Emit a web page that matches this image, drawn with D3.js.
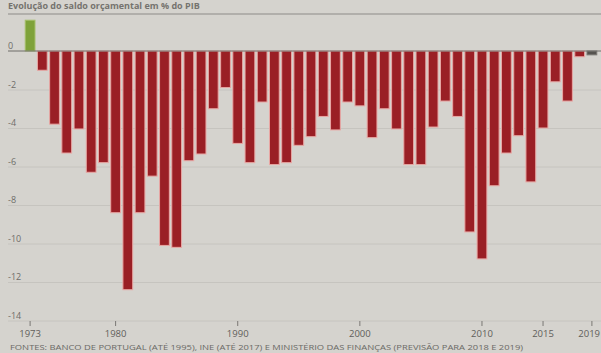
<!DOCTYPE html>
<html>
<head>
<meta charset="utf-8">
<script src="https://cdn.jsdelivr.net/npm/d3@7"></script>
<style>
  body { margin: 0; background: #d5d3ce; }
  svg { display: block; font-family: "Open Sans", "Liberation Sans", sans-serif; }
</style>
</head>
<body>
<div id="main"></div>
<script>
var years = d3.range(1973, 2020);
var saldo = [1.6, -1.0, -3.8, -5.3, -4.05, -6.3, -5.8, -8.4, -12.4, -8.4,
             -6.5, -10.1, -10.2, -5.7, -5.35, -3.0, -1.9, -4.8, -5.8, -2.65,
             -5.9, -5.8, -4.9, -4.45, -3.4, -4.1, -2.65, -2.85, -4.5, -3.0,
             -4.05, -5.9, -5.9, -3.95, -2.6, -3.4, -9.4, -10.8, -7.0, -5.3,
             -4.4, -6.8, -4.0, -1.6, -2.6, -0.3, -0.2];
var yTicks = [0, -2, -4, -6, -8, -10, -12, -14];
var xTickYears = [1973, 1980, 1990, 2000, 2010, 2015, 2019];
var title = "Evolução do saldo orçamental em % do PIB";
var source = "FONTES: BANCO DE PORTUGAL (ATÉ 1995), INE (ATÉ 2017) E MINISTÉRIO DAS FINANÇAS (PREVISÃO PARA 2018 E 2019)";

var width = 601, height = 353;

var svg = d3.select("#main").append("svg")
    .attr("width", width)
    .attr("height", height);

var x = d3.scaleBand()
    .domain(years)
    .range([24, 598])
    .paddingInner(0.2)
    .paddingOuter(0.1);

var y = d3.scaleLinear()
    .domain([-14, 0])
    .range([320.5, 51]);

// title and rule
svg.append("text")
    .attr("x", 8).attr("y", 9)
    .attr("font-size", 9)
    .attr("font-weight", "bold")
    .attr("fill", "#75736f")
    .text(title);

svg.append("line")
    .attr("x1", 8).attr("x2", width)
    .attr("y1", 14).attr("y2", 14)
    .attr("stroke", "#8d8b87").attr("stroke-width", 1.2);

// gridlines + y labels
var grid = svg.append("g");
grid.selectAll("line").data(yTicks.filter(function(d){ return d != 0; }))
  .enter().append("line")
    .attr("x1", 8).attr("x2", width)
    .attr("y1", function(d){ return y(d) + 0.5; })
    .attr("y2", function(d){ return y(d) + 0.5; })
    .attr("stroke", "#c6c4bf").attr("stroke-width", 1);

grid.selectAll("text").data(yTicks)
  .enter().append("text")
    .attr("x", 8)
    .attr("y", function(d){ return y(d) - 2; })
    .attr("font-size", 9)
    .attr("fill", "#6e6d69")
    .text(function(d){ return d; });

// bars
svg.append("g").selectAll("rect").data(saldo)
  .enter().append("rect")
    .attr("x", function(d, i){ return x(years[i]); })
    .attr("width", x.bandwidth())
    .attr("y", function(d){ return y(Math.max(0, d)); })
    .attr("height", function(d){ return Math.abs(y(d) - y(0)); })
    .attr("fill", function(d, i){
      if (d > 0) return "#7fa23a";
      if (years[i] == 2019) return "#55534f";
      return "#9a1f25";
    })
    .attr("stroke", function(d, i){
      if (d > 0) return "#a6c06a";
      if (years[i] == 2019) return "#7a7874";
      return "#e9a7a4";
    })
    .attr("stroke-width", 1);

// zero line
svg.append("line")
    .attr("x1", 8).attr("x2", width)
    .attr("y1", y(0)).attr("y2", y(0))
    .attr("stroke", "#6f6d69").attr("stroke-width", 1);

// x axis ticks and labels
var xa = svg.append("g");
xa.selectAll("line").data(xTickYears)
  .enter().append("line")
    .attr("x1", function(d){ return x(d) + x.bandwidth()/2; })
    .attr("x2", function(d){ return x(d) + x.bandwidth()/2; })
    .attr("y1", 321).attr("y2", 326)
    .attr("stroke", "#7a7874").attr("stroke-width", 1);

xa.selectAll("text").data(xTickYears)
  .enter().append("text")
    .attr("x", function(d){
      return d == 2019 ? width - 1 : x(d) + x.bandwidth()/2;
    })
    .attr("y", 337)
    .attr("text-anchor", function(d){ return d == 2019 ? "end" : "middle"; })
    .attr("font-size", 9.5)
    .attr("fill", "#5f5e5a")
    .text(function(d){ return d; });

// source line
svg.append("text")
    .attr("x", 10).attr("y", 350)
    .attr("font-size", 6.5)
    .attr("fill", "#6a6965")
    .attr("textLength", 513)
    .attr("lengthAdjust", "spacingAndGlyphs")
    .text(source);
</script>
</body>
</html>
